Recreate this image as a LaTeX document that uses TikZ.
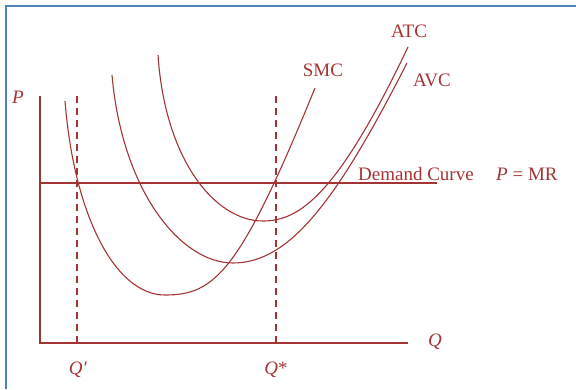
\documentclass[tikz,border=0pt]{standalone}
\usepackage{fontspec}
\setmainfont{Liberation Serif}
\usetikzlibrary{positioning}
\definecolor{costcolor}{RGB}{163,52,52}
\definecolor{framecolor}{RGB}{79,129,189}

\begin{document}
\begin{tikzpicture}[
  x=1pt,y=-1pt,
  axis/.style={draw=costcolor,line width=1.4pt},
  curve/.style={draw=costcolor,line width=1.1pt},
  guide/.style={draw=costcolor,line width=1.1pt,dash pattern=on 7pt off 5pt},
  lbl/.style={text=costcolor,font=\fontsize{19}{21}\selectfont,inner sep=0pt},
]
\useasboundingbox (0,0) rectangle (576,389);

% --- FRAME ---
\draw[draw=framecolor,line width=2.2pt] (6,389) -- (6,6) -- (576,6);

% --- AXES ---
\coordinate (origin) at (40,343);
\coordinate (ptop) at (40,96);
\coordinate (qend) at (408,343);
\draw[axis] (ptop) -- (origin) -- (qend);
\node[lbl] (plabel) at (18,97) {\textit{P}};
\node[lbl] (qlabel) at (435,342) {\textit{Q}};

% --- DEMAND ---
\coordinate (dleft) at (40,183);
\coordinate (dright) at (437,183);
\draw[axis,line width=1.2pt] (dleft) -- (dright);
\node[lbl,anchor=base west] (dlabel) at (358,180) {Demand Curve};
\node[lbl,anchor=base west] (mrlabel) at (496,180) {\textit{P} = MR};

% --- QUANTITIES ---
\coordinate (qptop) at (77,96);
\coordinate (qpbot) at (77,343);
\coordinate (qstop) at (276,96);
\coordinate (qsbot) at (276,343);
\draw[guide] (qptop) -- (qpbot);
\draw[guide] (qstop) -- (qsbot);
\node[lbl] (qplabel) at (78,370) {\textit{Q′}};
\node[lbl] (qslabel) at (276,370) {\textit{Q}*};

% --- COST CURVES ---
\coordinate (smcmin) at (165,295);
\coordinate (avcmin) at (233,263);
\coordinate (atcmin) at (263,221);
\draw[curve] (65,101) .. controls (74,215) and (115,295) .. (smcmin)
  .. controls (215,295) and (240,272) .. (315,88);
\draw[curve] (112,75) .. controls (122,190) and (180,263) .. (avcmin)
  .. controls (290,263) and (337,200) .. (407,63);
\draw[curve] (158,55) .. controls (165,160) and (215,221) .. (atcmin)
  .. controls (300,221) and (338,194) .. (408,47);
\node[lbl] (smclabel) at (323,70) {SMC};
\node[lbl] (avclabel) at (432,80) {AVC};
\node[lbl] (atclabel) at (409,31) {ATC};

\end{tikzpicture}
\end{document}
